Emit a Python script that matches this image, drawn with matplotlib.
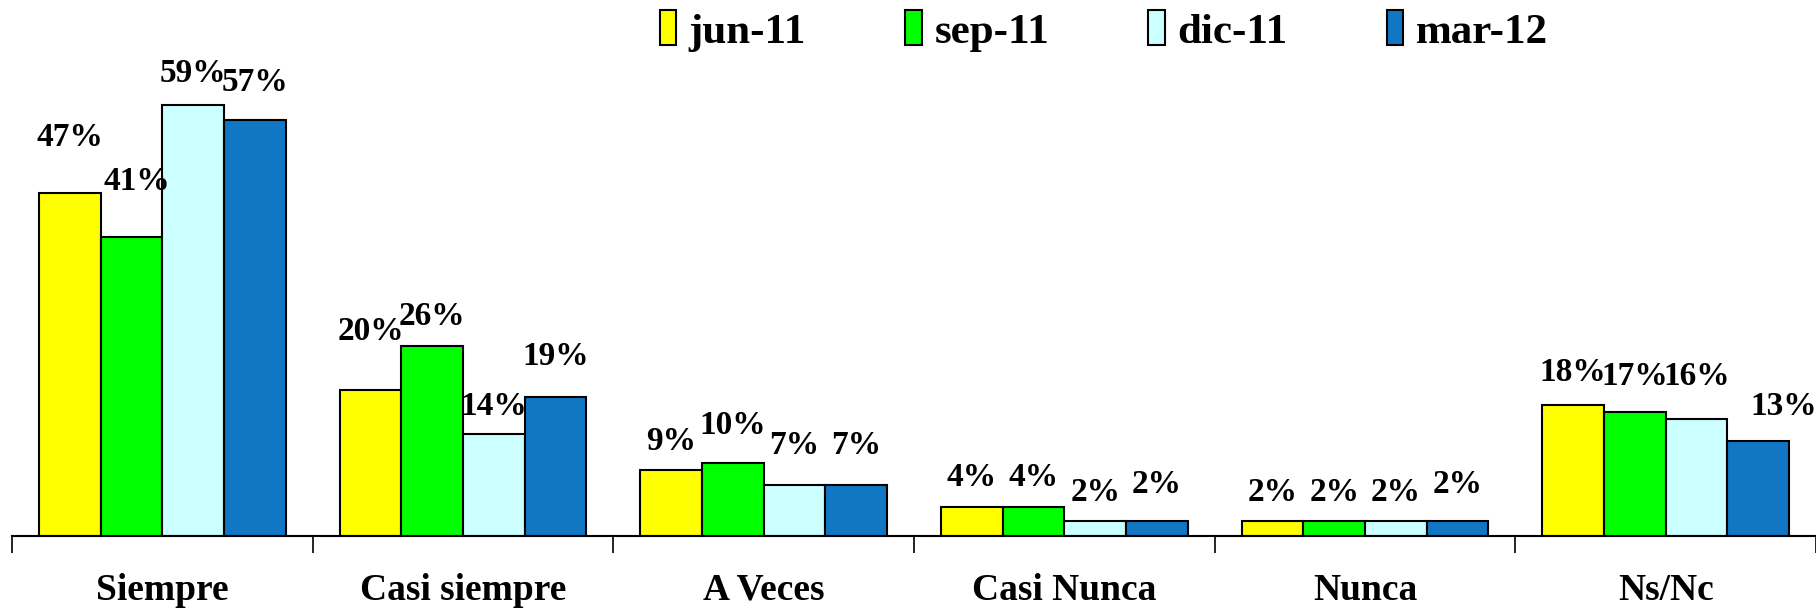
import numpy as np
import matplotlib
matplotlib.use("Agg")
from matplotlib import pyplot as plt
from matplotlib import transforms

categories = ['Siempre', 'Casi siempre', 'A Veces', 'Casi Nunca', 'Nunca', 'Ns/Nc']
series = ['jun-11', 'sep-11', 'dic-11', 'mar-12']
jun11 = [47, 20, 9, 4, 2, 18]
sep11 = [41, 26, 10, 4, 2, 17]
dic11 = [59, 14, 7, 2, 2, 16]
mar12 = [57, 19, 7, 2, 2, 13]
values = [jun11, sep11, dic11, mar12]

colors = ['#FFFF00', '#00FF00', '#CCFFFF', '#1177C4']

# label offsets above bar tops (pixels), per series / category
label_dy = [[55, 58, 29, 29, 29, 32],
            [55, 30, 37, 29, 29, 35],
            [32, 27, 39, 29, 29, 43],
            [37, 41, 39, 37, 37, 35]]
label_dx = [[0] * 6,
            [5, 0, 0, 0, 0, 0],
            [0] * 6,
            [0, 0, 0, 0, 0, 26]]

plt.rcParams['font.family'] = ['Liberation Serif', 'DejaVu Serif']
plt.rcParams['font.weight'] = 'bold'

fig = plt.figure(figsize=(18.16, 6.08), dpi=100)
ax = fig.add_axes([12 / 1816, 1 - 536 / 608, 1 - 12 / 1816, 536 / 608])

x = np.arange(len(categories))
w = 0.205
for i, (name, vals) in enumerate(zip(series, values)):
    pos = x + (i - 1.5) * w
    bars = ax.bar(pos, vals, width=w, color=colors[i], edgecolor='black',
                  linewidth=1.5, label=name, zorder=2)
    for j, b in enumerate(bars):
        ax.annotate(f"{vals[j]}%", (b.get_x() + b.get_width() / 2, b.get_height()),
                    xytext=(label_dx[i][j], label_dy[i][j]), textcoords='offset pixels',
                    ha='center', va='center', fontsize=24, fontweight='bold')

ax.set_xlim(-0.5, len(categories) - 0.5)
ax.set_ylim(0, 73.4)
for s in ['top', 'right', 'left']:
    ax.spines[s].set_visible(False)
ax.spines['bottom'].set_linewidth(1.5)
ax.set_yticks([])
ax.set_xticks(np.arange(len(categories) + 1) - 0.5)
ax.set_xticklabels([])
ax.tick_params(axis='x', length=12, width=1.2, direction='out')

# category names, 54 px below the axis line
trans = transforms.blended_transform_factory(ax.transData, ax.transAxes)
for j, c in enumerate(categories):
    ax.text(j, -54 / 536, c, transform=trans, ha='center', va='center',
            fontsize=27, fontweight='bold', clip_on=False)

leg = fig.legend(loc='center', bbox_to_anchor=(1104 / 1816, 1 - 31 / 608), ncol=4,
                 frameon=False, fontsize=31, handlelength=0.38, handleheight=0.85,
                 handletextpad=0.3, columnspacing=2.3, borderpad=0)

fig.savefig('out.png', dpi=100)
